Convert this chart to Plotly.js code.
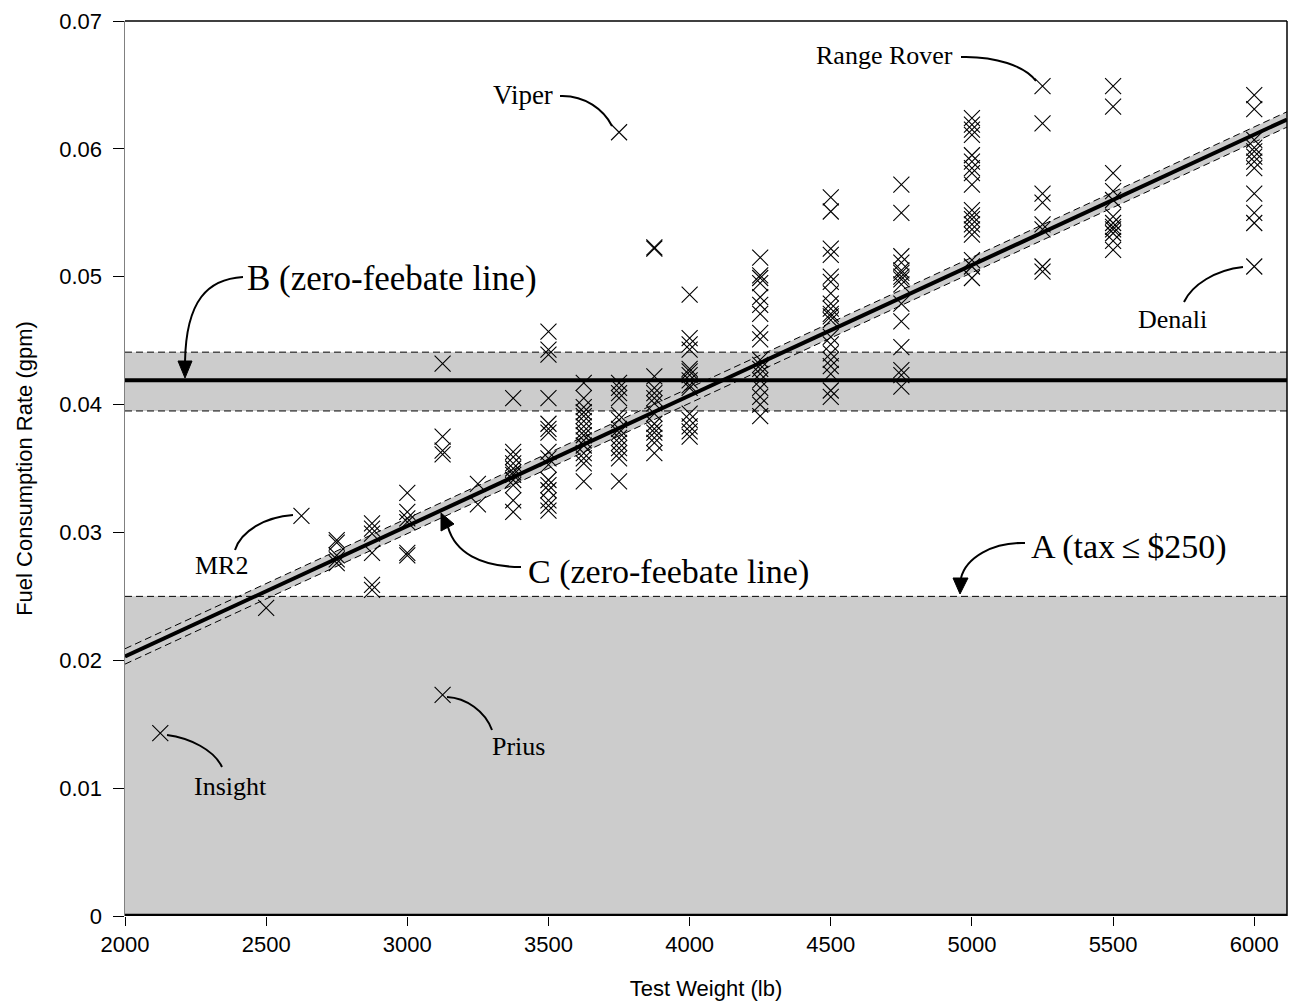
<!DOCTYPE html>
<html>
<head>
<meta charset="utf-8">
<script src="https://cdn.plot.ly/plotly-3.0.1.min.js"></script>
<style>
html,body{margin:0;padding:0;background:#fff;}
#chart{width:1289px;height:1005px;}
</style>
</head>
<body>
<div id="chart"></div>
<script>
// ---------------- DATA ----------------
const testWeights = [2125, 2500, 2625, 2750, 2875, 3000, 3125, 3250, 3375, 3500, 3625, 3750, 3875, 4000, 4250, 4500, 4750, 5000, 5250, 5500, 6000];
const fuelRates = [
  [0.0143],
  [0.0241],
  [0.0313],
  [0.0294, 0.0292, 0.0282, 0.0279, 0.0276],
  [0.0307, 0.0303, 0.0299, 0.0284, 0.0259, 0.0255],
  [0.0331, 0.0316, 0.0311, 0.0308, 0.0284, 0.0282],
  [0.0432, 0.0375, 0.0364, 0.0361, 0.0173],
  [0.0338, 0.0322],
  [0.0405, 0.0363, 0.0359, 0.0354, 0.0350, 0.0347, 0.0345, 0.0341, 0.0337, 0.0325, 0.0316],
  [0.0457, 0.0443, 0.0439, 0.0405, 0.0385, 0.0381, 0.0378, 0.0363, 0.0358, 0.0353, 0.0341, 0.0337, 0.0333, 0.0325, 0.0321, 0.0317],
  [0.0417, 0.0405, 0.0398, 0.0394, 0.0391, 0.0387, 0.0383, 0.0379, 0.0376, 0.0372, 0.0368, 0.0362, 0.0358, 0.0354, 0.0340],
  [0.0613, 0.0417, 0.0413, 0.0409, 0.0405, 0.0392, 0.0388, 0.0381, 0.0378, 0.0374, 0.0370, 0.0366, 0.0362, 0.0358, 0.0340],
  [0.0523, 0.0522, 0.0422, 0.0413, 0.0409, 0.0405, 0.0401, 0.0393, 0.0385, 0.0381, 0.0378, 0.0374, 0.0370, 0.0362],
  [0.0486, 0.0452, 0.0447, 0.0443, 0.0428, 0.0426, 0.0423, 0.0419, 0.0415, 0.0413, 0.0393, 0.0388, 0.0383, 0.0379, 0.0375],
  [0.0515, 0.0501, 0.0499, 0.0495, 0.0484, 0.0478, 0.0471, 0.0456, 0.0451, 0.0435, 0.0431, 0.0428, 0.0424, 0.0419, 0.0413, 0.0406, 0.0400, 0.0391],
  [0.0562, 0.0551, 0.0522, 0.0517, 0.0500, 0.0496, 0.0487, 0.0479, 0.0475, 0.0471, 0.0469, 0.0466, 0.0453, 0.0447, 0.0440, 0.0435, 0.0430, 0.0424, 0.0411, 0.0406],
  [0.0572, 0.0550, 0.0516, 0.0511, 0.0505, 0.0503, 0.0500, 0.0498, 0.0494, 0.0479, 0.0465, 0.0445, 0.0427, 0.0423, 0.0414],
  [0.0624, 0.0619, 0.0615, 0.0611, 0.0595, 0.0590, 0.0585, 0.0581, 0.0572, 0.0552, 0.0548, 0.0545, 0.0541, 0.0537, 0.0533, 0.0513, 0.0508, 0.0499],
  [0.0649, 0.0620, 0.0565, 0.0558, 0.0541, 0.0537, 0.0508, 0.0504],
  [0.0649, 0.0633, 0.0581, 0.0567, 0.0560, 0.0547, 0.0542, 0.0539, 0.0537, 0.0534, 0.0528, 0.0521],
  [0.0642, 0.0631, 0.0607, 0.0601, 0.0598, 0.0594, 0.0590, 0.0585, 0.0565, 0.0550, 0.0542, 0.0508]
];

// Reference lines
const lineX = [2000, 6116];
const lineA = [0.025, 0.025];           // A (tax <= $250) boundary
const lineB = [0.0419, 0.0419];         // B zero-feebate line
const lineBUpper = [0.0441, 0.0441];
const lineBLower = [0.0395, 0.0395];
const lineC = [0.0203, 0.0623];         // C zero-feebate line
const lineCUpper = [0.0209, 0.0629];
const lineCLower = [0.0197, 0.0617];

const yTickVals = [0, 0.01, 0.02, 0.03, 0.04, 0.05, 0.06, 0.07];
const yTickText = ['0', '0.01', '0.02', '0.03', '0.04', '0.05', '0.06', '0.07'];
const xTickVals = [2000, 2500, 3000, 3500, 4000, 4500, 5000, 5500, 6000];

// ---------------- BUILD ----------------
const px = [], py = [];
testWeights.forEach((w, i) => fuelRates[i].forEach(v => { px.push(w); py.push(v); }));

const X0 = 2000, X1 = 6116, Y0 = 0, Y1 = 0.07;
const ML = 125, MR = 2, MT = 21, MB = 89, W = 1289, H = 1005;
const PW = W - ML - MR, PH = H - MT - MB;
function toX(p) { return X0 + (p - ML) / PW * (X1 - X0); }
function toY(p) { return Y1 - (p - MT) / PH * (Y1 - Y0); }
function pathFromPx(s) {
  const t = s.trim().split(/\s+/);
  let out = [], k = 0;
  t.forEach(tok => {
    if (/^[A-Za-z]$/.test(tok)) { out.push(tok); k = 0; }
    else { const n = parseFloat(tok); out.push((k % 2 === 0 ? toX(n) : toY(n)).toFixed(6)); k++; }
  });
  return out.join(' ');
}

const gray = '#cccccc';
const traces = [
  {x: [lineX[0], lineX[1], lineX[1], lineX[0]], y: [0, 0, lineA[1], lineA[0]], fill: 'toself', fillcolor: gray,
   mode: 'lines', line: {width: 0}, hoverinfo: 'skip', showlegend: false},
  {x: [lineX[0], lineX[1], lineX[1], lineX[0]], y: [lineBLower[0], lineBLower[1], lineBUpper[1], lineBUpper[0]], fill: 'toself', fillcolor: gray,
   mode: 'lines', line: {width: 0}, hoverinfo: 'skip', showlegend: false},
  {x: [lineX[0], lineX[1], lineX[1], lineX[0]], y: [lineCLower[0], lineCLower[1], lineCUpper[1], lineCUpper[0]], fill: 'toself', fillcolor: gray,
   mode: 'lines', line: {width: 0}, hoverinfo: 'skip', showlegend: false},
  {x: lineX, y: lineA, mode: 'lines', line: {color: '#000', width: 1, dash: '7px,4px'}, showlegend: false},
  {x: lineX, y: lineBUpper, mode: 'lines', line: {color: '#000', width: 1, dash: '7px,4px'}, showlegend: false},
  {x: lineX, y: lineBLower, mode: 'lines', line: {color: '#000', width: 1, dash: '7px,4px'}, showlegend: false},
  {x: lineX, y: lineCUpper, mode: 'lines', line: {color: '#000', width: 1, dash: '7px,4px'}, showlegend: false},
  {x: lineX, y: lineCLower, mode: 'lines', line: {color: '#000', width: 1, dash: '7px,4px'}, showlegend: false},
  {x: lineX, y: lineB, mode: 'lines', line: {color: '#000', width: 4}, showlegend: false},
  {x: lineX, y: lineC, mode: 'lines', line: {color: '#000', width: 4}, showlegend: false},
  {x: px, y: py, mode: 'markers', type: 'scatter',
   marker: {symbol: 'x-thin-open', size: 16, color: '#000', line: {color: '#000', width: 1.1}}, showlegend: false}
];

const callouts = [
  {path: 'M 243 277 C 208 279 186 300 185 362', tri: 'M 178 361 L 192 361 L 185 378 Z'},
  {path: 'M 521 567 C 480 567 455 552 448 527', tri: 'M 441 513 L 454 524 L 441 531 Z'},
  {path: 'M 1025 543 C 992 542 966 558 961 578', tri: 'M 953 578 L 968 578 L 960 594 Z'},
  {path: 'M 560 96 C 585 95 604 110 612 126'},
  {path: 'M 961 57 C 995 56 1025 66 1036 81'},
  {path: 'M 1184 302 C 1192 285 1215 270 1243 267'},
  {path: 'M 235 550 C 241 531 265 517 293 515'},
  {path: 'M 447 697 C 466 698 485 711 492 730'},
  {path: 'M 167 735 C 190 738 214 750 222 767'}
];

const shapes = [
  {type: 'line', xref: 'paper', yref: 'y', x0: 0, x1: 1, y0: 0, y1: 0, line: {color: '#000', width: 4.5}},
  {type: 'line', xref: 'paper', yref: 'paper', x0: 0, x1: 1, y0: 1, y1: 1, line: {color: '#000', width: 1.5}},
  {type: 'line', xref: 'paper', yref: 'paper', x0: 1, x1: 1, y0: 0, y1: 1, line: {color: '#000', width: 1.5}}
];
callouts.forEach(c => {
  shapes.push({type: 'path', xref: 'x', yref: 'y', path: pathFromPx(c.path), line: {color: '#000', width: 2}, layer: 'above'});
  if (c.tri) shapes.push({type: 'path', xref: 'x', yref: 'y', path: pathFromPx(c.tri), fillcolor: '#000', line: {color: '#000', width: 1}, layer: 'above'});
});

const serif = 'Liberation Serif, Times New Roman, serif';
function label(text, cx, cy, size) {
  return {text: text, x: toX(cx), y: toY(cy), xref: 'x', yref: 'y', showarrow: false,
          xanchor: 'center', yanchor: 'middle', font: {family: serif, size: size, color: '#000'}};
}
const annotations = [
  label('B (zero-feebate line)', 392, 278, 35),
  label('C (zero-feebate line)', 668, 572, 34),
  label('A (tax\u2009\u2264\u2009$250)', 1129, 547, 34),
  label('Viper', 523, 95, 27),
  label('Range Rover', 884, 55, 26),
  label('Denali', 1172, 319, 26),
  label('MR2', 221, 565, 26),
  label('Prius', 518, 746, 26),
  label('Insight', 230, 786, 26)
];

const sans = 'Liberation Sans, Arial, sans-serif';
const layout = {
  width: W, height: H,
  margin: {l: ML, r: MR, t: MT, b: MB, pad: 0},
  paper_bgcolor: '#fff', plot_bgcolor: '#fff',
  showlegend: false,
  font: {family: sans, size: 22, color: '#000'},
  xaxis: {
    range: [X0, X1], tickvals: xTickVals, ticktext: xTickVals.map(String),
    ticks: 'outside', ticklen: 9, tickwidth: 1, tickcolor: '#000',
    showgrid: false, zeroline: false, showline: false,
    tickfont: {family: sans, size: 22, color: '#000'},
    title: {text: 'Test Weight (lb)', font: {family: sans, size: 22, color: '#000'}, standoff: 24}
  },
  yaxis: {
    range: [Y0, Y1], tickvals: yTickVals, ticktext: yTickText,
    ticks: 'outside', ticklen: 11, tickwidth: 1, tickcolor: '#000',
    showgrid: false, zeroline: false, showline: true, linecolor: '#808080', linewidth: 1.5,
    tickfont: {family: sans, size: 22, color: '#000'},
    ticklabelstandoff: 6,
    title: {text: 'Fuel Consumption Rate (gpm)', font: {family: sans, size: 22, color: '#000'}, standoff: 20}
  },
  shapes: shapes,
  annotations: annotations
};

Plotly.newPlot('chart', traces, layout, {displayModeBar: false, staticPlot: true});
</script>
</body>
</html>
